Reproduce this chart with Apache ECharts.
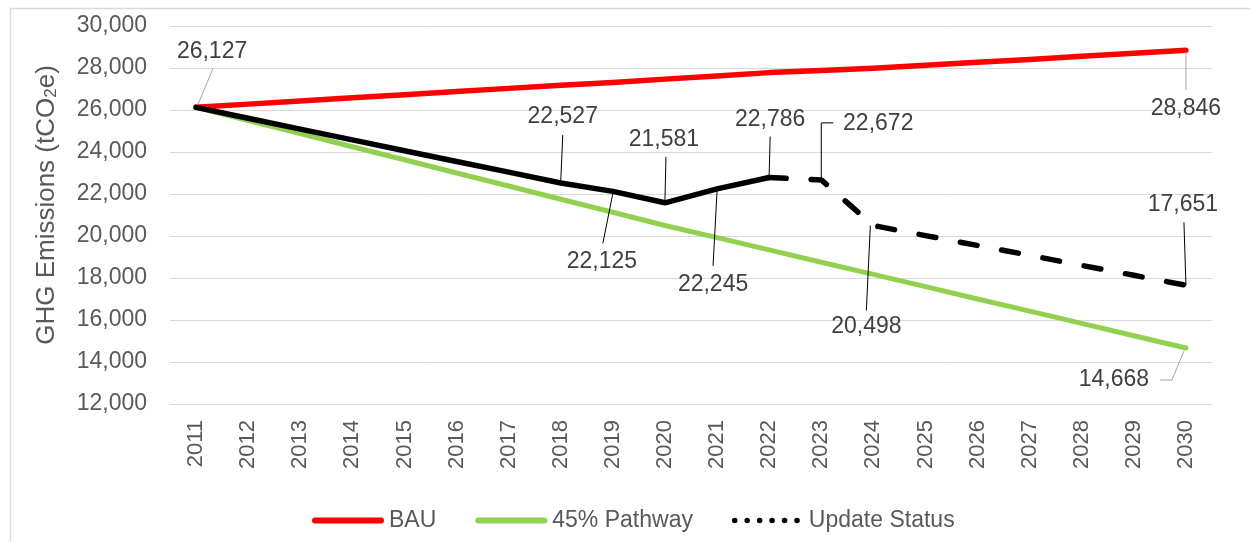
<!DOCTYPE html>
<html><head><meta charset="utf-8">
<script src="https://cdn.jsdelivr.net/npm/echarts@6/dist/echarts.min.js"></script>
<style>html,body{margin:0;padding:0;background:#fff}#c{width:1250px;height:542px}</style>
</head><body><div id="c"></div>
<script>
// ---------------- data ----------------
const years = ['2011','2012','2013','2014','2015','2016','2017','2018','2019','2020',
               '2021','2022','2023','2024','2025','2026','2027','2028','2029','2030'];
const bau = [26127, 26280, 26430, 26580, 26730, 26880, 27030, 27180, 27310, 27470,
             27620, 27780, 27880, 27990, 28130, 28270, 28410, 28560, 28700, 28846];
const pathway = [26127, 25500, 24880, 24250, 23630, 23000, 22380, 21750, 21130, 20500,
                 19920, 19340, 18750, 18170, 17590, 17000, 16420, 15840, 15250, 14668];
const updateStatus = [26127, 25610, 25090, 24580, 24060, 23550, 23040, 22527, 22125, 21581,
                      22245, 22786, 22672, 20498, 20020, 19550, 19080, 18600, 18130, 17651];
const lastActualYear = '2022';
const yMin = 12000, yMax = 30000, yStep = 2000;
const seriesNames = ['BAU', '45% Pathway', 'Update Status'];
const yAxisTitle = 'GHG Emissions (tCO{sub|2}e)';
// which points carry a data label
const labeledPoints = [
  ['bau','2011'], ['bau','2030'], ['pathway','2030'],
  ['update','2018'], ['update','2019'], ['update','2020'], ['update','2021'],
  ['update','2022'], ['update','2023'], ['update','2024'], ['update','2030']
];

// ---------------- styling / label placement (pixel offsets from the point) ----------------
const GRAY = '#A6A6A6', BLK = '#000000';
const labelPlacement = {
  'bau-2011':     {dx: 16,  dy: -56, line: [[2,-3],[17,-39]], color: GRAY},
  'bau-2030':     {dx: 0,   dy: 58,  line: [[0,2],[0,40]], color: GRAY},
  'pathway-2030': {dx: -72, dy: 32,  line: [[-2,3],[-14,32],[-26,32]], color: GRAY},
  'update-2018':  {dx: 2,   dy: -66, line: [[0,-2],[2,-48]], color: BLK},
  'update-2019':  {dx: -11, dy: 70,  line: [[0,2],[-10,52]], color: BLK},
  'update-2020':  {dx: -1,  dy: -63, line: [[0,-2],[1,-46]], color: BLK},
  'update-2021':  {dx: -4,  dy: 96,  line: [[0,2],[-4,77]], color: BLK},
  'update-2022':  {dx: 1,   dy: -58, line: [[0,-2],[1,-41]], color: BLK},
  'update-2023':  {dx: 57,  dy: -56, line: [[0,-2],[0,-57],[12,-57]], color: BLK},
  'update-2024':  {dx: -7,  dy: 101, line: [[-3,0],[-7,85]], color: BLK},
  'update-2030':  {dx: -3,  dy: -81, line: [[0,0],[-2,-63]], color: BLK}
};
const FONT = '"Liberation Sans", Arial, sans-serif';
const TXT = '#595959', LBL = '#404040';

const seriesValues = {bau: bau, pathway: pathway, update: updateStatus};
const cut = years.indexOf(lastActualYear);
const fmt = v => Math.round(v).toLocaleString('en-US');

// legend icons: capsule line and 6 round dots (both 72 x 6)
const capsulePath = 'M3,0 H69 A3,3 0 0 1 69,6 H3 A3,3 0 0 1 3,0 Z';
const dotR = 2.8, dotW = 68;
let dotPath = '';
for (let k = 0; k < 6; k++) {
  const cx = dotR + k * (dotW - 2 * dotR) / 5;
  dotPath += 'M' + (cx - dotR) + ',' + 3 + ' A' + dotR + ',' + dotR + ' 0 1 1 ' + (cx + dotR) + ',' + 3 +
             ' A' + dotR + ',' + dotR + ' 0 1 1 ' + (cx - dotR) + ',' + 3 + ' Z ';
}
dotPath += 'M72,0 L72,0.01 Z M0,6 L0,6.01 Z';

const chart = echarts.init(document.getElementById('c'), null, {renderer: 'canvas'});
const lineCommon = {type: 'line', symbol: 'none', smooth: false, silent: true,
                    emphasis: {disabled: true}, animation: false};

chart.setOption({
  animation: false,
  backgroundColor: '#ffffff',
  textStyle: {fontFamily: FONT},
  graphic: [{
    type: 'rect', left: 8, top: 6, silent: true,
    shape: {width: 1400, height: 700},
    style: {fill: 'none', stroke: '#D9D9D9', lineWidth: 1.5}
  }],
  grid: {left: 170, right: 38, top: 26, bottom: 138, containLabel: false, outerBoundsMode: 'none'},
  legend: {
    left: 307, top: 504, itemWidth: 72, itemHeight: 6, itemGap: 39, selectedMode: false,
    textStyle: {fontSize: 23, color: TXT, fontFamily: FONT},
    data: [
      {name: seriesNames[0], icon: 'path://' + capsulePath, itemStyle: {color: '#FF0000'}},
      {name: seriesNames[1], icon: 'path://' + capsulePath, itemStyle: {color: '#92D050'}},
      {name: seriesNames[2], icon: 'path://' + dotPath, itemStyle: {color: '#000000'}}
    ]
  },
  xAxis: {
    type: 'category', data: years, boundaryGap: true,
    axisLine: {show: true, lineStyle: {color: '#D9D9D9', width: 1}},
    axisTick: {show: false},
    axisLabel: {rotate: 90, margin: 16, fontSize: 22, color: TXT, fontFamily: FONT, interval: 0}
  },
  yAxis: {
    type: 'value', min: yMin, max: yMax, interval: yStep,
    name: yAxisTitle, nameLocation: 'middle', nameGap: 110,
    nameTextStyle: {fontSize: 26, color: TXT, fontFamily: FONT, padding: [0, 0, 0, 20],
      rich: {sub: {fontSize: 17, color: TXT, fontFamily: FONT, verticalAlign: 'bottom', lineHeight: 18}}},
    axisLine: {show: false}, axisTick: {show: false},
    splitLine: {lineStyle: {color: '#D9D9D9', width: 1}},
    axisLabel: {margin: 23, fontSize: 23, color: TXT, fontFamily: FONT, formatter: v => fmt(v)}
  },
  series: [
    Object.assign({}, lineCommon, {name: seriesNames[0], data: bau, z: 2,
      itemStyle: {color: '#FF0000'},
      lineStyle: {color: '#FF0000', width: 5.5, cap: 'round', join: 'round'}}),
    Object.assign({}, lineCommon, {name: seriesNames[1], data: pathway, z: 3,
      itemStyle: {color: '#92D050'},
      lineStyle: {color: '#92D050', width: 5, cap: 'round', join: 'round'}}),
    Object.assign({}, lineCommon, {name: seriesNames[2], z: 4,
      data: updateStatus.map((v, i) => i <= cut ? v : null),
      itemStyle: {color: '#000000'},
      lineStyle: {color: '#000000', width: 5.5, cap: 'round', join: 'round'}}),
    Object.assign({}, lineCommon, {name: seriesNames[2], z: 4,
      data: updateStatus.map((v, i) => i >= cut ? v : null),
      itemStyle: {color: '#000000'},
      lineStyle: {color: '#000000', width: 5.5, type: [17, 25], cap: 'round', join: 'round'}}),
    {
      type: 'custom', name: 'labels', z: 10, silent: true, animation: false,
      data: labeledPoints.map(([s, y], i) => [years.indexOf(y), seriesValues[s][years.indexOf(y)], i]),
      renderItem: function (params, api) {
        const i = api.value(2);
        const key = labeledPoints[i][0] + '-' + labeledPoints[i][1];
        const spec = labelPlacement[key];
        const p = api.coord([api.value(0), api.value(1)]);
        const pts = spec.line.map(o => [p[0] + o[0], p[1] + o[1]]);
        return {
          type: 'group',
          children: [
            {type: 'polyline', shape: {points: pts}, style: {stroke: spec.color, lineWidth: 1, fill: null}},
            {type: 'text', x: p[0] + spec.dx, y: p[1] + spec.dy,
             style: {text: fmt(api.value(1)), fill: LBL, font: '23px ' + FONT,
                     align: 'center', verticalAlign: 'middle'}}
          ]
        };
      }
    }
  ]
});
</script>
</body></html>
